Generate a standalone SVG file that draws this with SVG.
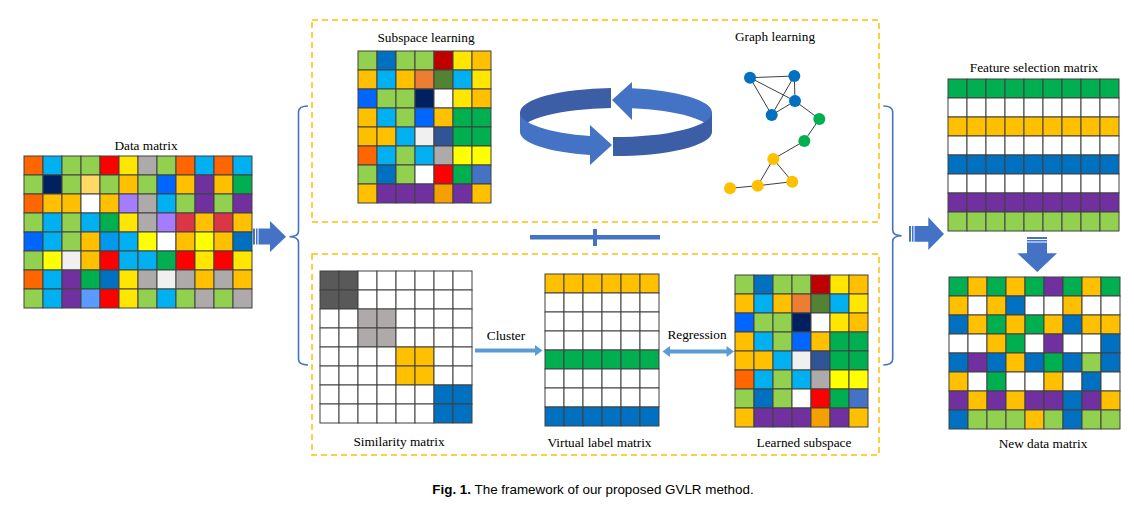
<svg xmlns="http://www.w3.org/2000/svg" xmlns:xlink="http://www.w3.org/1999/xlink" width="1134" height="505" viewBox="0 0 1134 505">
<style>
.mx rect{width:19px;height:19px;stroke:#404040;stroke-width:1}
.o{fill:#FF6600}.b{fill:#00B0F0}.g{fill:#92D050}.r{fill:#FF0000}.y{fill:#FFE600}.yy{fill:#FFFF00}
.a{fill:#AEAAAA}.n{fill:#002060}.l{fill:#FFD966}.m{fill:#FFC000}.bl{fill:#0066FF}.p{fill:#7030A0}
.gr{fill:#00B050}.w{fill:#FFFFFF}.v{fill:#A67CFF}.c{fill:#DC3545}.s{fill:#0099EE}.d{fill:#0070C0}
.e{fill:#F0F0F0}.k{fill:#5B9BFF}.dr{fill:#C00000}.ob{fill:#ED7D31}.ol{fill:#548235}.sb{fill:#2F5597}
.am{fill:#F4A000}.mb{fill:#4472C4}.dk{fill:#595959}
.t{font-family:"Liberation Serif","Times New Roman",serif;font-size:13.3px;fill:#000;text-anchor:middle}
.dash{fill:none;stroke:#FFC000;stroke-width:1.5;stroke-dasharray:6 4}
.brk{fill:none;stroke:#4472C4;stroke-width:1.6}
.blk{fill:#4472C4}
.lb{fill:#5B9BD5}
.edge{stroke:#404040;stroke-width:1}
.nb{fill:#0070C0}.ng{fill:#00B050}.ny{fill:#FFC000}
</style>
<defs>
<g id="subcells" class="mx">
<g><rect class="g" x="0" y="0" width="19" height="19"/><rect class="d" x="19" y="0" width="19" height="19"/><rect class="g" x="38" y="0" width="19" height="19"/><rect class="g" x="57" y="0" width="19" height="19"/><rect class="dr" x="76" y="0" width="19" height="19"/><rect class="y" x="95" y="0" width="19" height="19"/><rect class="m" x="114" y="0" width="19" height="19"/></g>
<g transform="translate(0,19)"><rect class="m" x="0" width="19" height="19"/><rect class="b" x="19" width="19" height="19"/><rect class="m" x="38" width="19" height="19"/><rect class="ob" x="57" width="19" height="19"/><rect class="ol" x="76" width="19" height="19"/><rect class="b" x="95" width="19" height="19"/><rect class="y" x="114" width="19" height="19"/></g>
<g transform="translate(0,38)"><rect class="bl" x="0" width="19" height="19"/><rect class="g" x="19" width="19" height="19"/><rect class="g" x="38" width="19" height="19"/><rect class="n" x="57" width="19" height="19"/><rect class="w" x="76" width="19" height="19"/><rect class="y" x="95" width="19" height="19"/><rect class="m" x="114" width="19" height="19"/></g>
<g transform="translate(0,57)"><rect class="m" x="0" width="19" height="19"/><rect class="b" x="19" width="19" height="19"/><rect class="g" x="38" width="19" height="19"/><rect class="bl" x="57" width="19" height="19"/><rect class="m" x="76" width="19" height="19"/><rect class="gr" x="95" width="19" height="19"/><rect class="gr" x="114" width="19" height="19"/></g>
<g transform="translate(0,76)"><rect class="m" x="0" width="19" height="19"/><rect class="m" x="19" width="19" height="19"/><rect class="b" x="38" width="19" height="19"/><rect class="e" x="57" width="19" height="19"/><rect class="sb" x="76" width="19" height="19"/><rect class="gr" x="95" width="19" height="19"/><rect class="gr" x="114" width="19" height="19"/></g>
<g transform="translate(0,95)"><rect class="o" x="0" width="19" height="19"/><rect class="b" x="19" width="19" height="19"/><rect class="g" x="38" width="19" height="19"/><rect class="b" x="57" width="19" height="19"/><rect class="a" x="76" width="19" height="19"/><rect class="yy" x="95" width="19" height="19"/><rect class="yy" x="114" width="19" height="19"/></g>
<g transform="translate(0,114)"><rect class="g" x="0" width="19" height="19"/><rect class="d" x="19" width="19" height="19"/><rect class="g" x="38" width="19" height="19"/><rect class="w" x="57" width="19" height="19"/><rect class="r" x="76" width="19" height="19"/><rect class="gr" x="95" width="19" height="19"/><rect class="mb" x="114" width="19" height="19"/></g>
<g transform="translate(0,133)"><rect class="m" x="0" width="19" height="19"/><rect class="p" x="19" width="19" height="19"/><rect class="p" x="38" width="19" height="19"/><rect class="p" x="57" width="19" height="19"/><rect class="am" x="76" width="19" height="19"/><rect class="p" x="95" width="19" height="19"/><rect class="m" x="114" width="19" height="19"/></g>
</g>
</defs>
<rect width="1134" height="505" fill="#FFFFFF"/>

<g id="data-matrix">
<text class="t" x="146" y="150">Data matrix</text>
<g class="mx" transform="translate(24,156)">
<g><rect class="o" x="0"/><rect class="b" x="19"/><rect class="g" x="38"/><rect class="g" x="57"/><rect class="r" x="76"/><rect class="y" x="95"/><rect class="a" x="114"/><rect class="g" x="133"/><rect class="o" x="152"/><rect class="b" x="171"/><rect class="o" x="190"/><rect class="b" x="209"/></g>
<g transform="translate(0,19)"><rect class="g" x="0"/><rect class="n" x="19"/><rect class="g" x="38"/><rect class="l" x="57"/><rect class="g" x="76"/><rect class="m" x="95"/><rect class="g" x="114"/><rect class="bl" x="133"/><rect class="m" x="152"/><rect class="p" x="171"/><rect class="m" x="190"/><rect class="gr" x="209"/></g>
<g transform="translate(0,38)"><rect class="o" x="0"/><rect class="m" x="19"/><rect class="m" x="38"/><rect class="w" x="57"/><rect class="m" x="76"/><rect class="v" x="95"/><rect class="a" x="114"/><rect class="b" x="133"/><rect class="g" x="152"/><rect class="p" x="171"/><rect class="g" x="190"/><rect class="p" x="209"/></g>
<g transform="translate(0,57)"><rect class="g" x="0"/><rect class="b" x="19"/><rect class="g" x="38"/><rect class="b" x="57"/><rect class="gr" x="76"/><rect class="y" x="95"/><rect class="a" x="114"/><rect class="v" x="133"/><rect class="c" x="152"/><rect class="m" x="171"/><rect class="c" x="190"/><rect class="m" x="209"/></g>
<g transform="translate(0,76)"><rect class="bl" x="0"/><rect class="b" x="19"/><rect class="g" x="38"/><rect class="m" x="57"/><rect class="s" x="76"/><rect class="b" x="95"/><rect class="yy" x="114"/><rect class="w" x="133"/><rect class="m" x="152"/><rect class="yy" x="171"/><rect class="m" x="190"/><rect class="d" x="209"/></g>
<g transform="translate(0,95)"><rect class="g" x="0"/><rect class="yy" x="19"/><rect class="e" x="38"/><rect class="m" x="57"/><rect class="r" x="76"/><rect class="b" x="95"/><rect class="b" x="114"/><rect class="gr" x="133"/><rect class="r" x="152"/><rect class="y" x="171"/><rect class="r" x="190"/><rect class="y" x="209"/></g>
<g transform="translate(0,114)"><rect class="o" x="0"/><rect class="b" x="19"/><rect class="p" x="38"/><rect class="gr" x="57"/><rect class="d" x="76"/><rect class="y" x="95"/><rect class="a" x="114"/><rect class="e" x="133"/><rect class="a" x="152"/><rect class="m" x="171"/><rect class="a" x="190"/><rect class="m" x="209"/></g>
<g transform="translate(0,133)"><rect class="g" x="0"/><rect class="b" x="19"/><rect class="p" x="38"/><rect class="k" x="57"/><rect class="r" x="76"/><rect class="y" x="95"/><rect class="g" x="114"/><rect class="b" x="133"/><rect class="g" x="152"/><rect class="a" x="171"/><rect class="g" x="190"/><rect class="a" x="209"/></g>
</g>
</g>

<g id="top-box">
<rect class="dash" x="312" y="20" width="567" height="202"/>
</g>
<g id="bottom-box">
<rect class="dash" x="312" y="254" width="567" height="201"/>
</g>

<g id="subspace-learning">
<text class="t" x="426" y="42">Subspace learning</text>
<use href="#subcells" xlink:href="#subcells" x="358" y="51"/>
</g>

<g id="iteration-cycle">
<path fill="#3B5EA6" d="M611,88 A96 24.5 0 0 0 520,112.5 L520,132 A96 24 0 0 1 611,108 Z"/>
<path fill="#4472C4" d="M712,112.5 A96 24.5 0 0 0 632,88.3 L632,82 L612,100 L632,120 L632,108.3 A96 24 0 0 1 712,132 Z"/>
<path fill="#4472C4" d="M520,112.5 A96 24.5 0 0 0 590,136.1 L590,125 L612,145 L590,165 L590,155.1 A96 24 0 0 1 520,132 Z"/>
<path fill="#3B5EA6" d="M613,137 A96 24.5 0 0 0 712,112.5 L712,132 A96 24 0 0 1 613,156 Z"/>
</g>

<g id="graph-learning">
<text class="t" x="775" y="41">Graph learning</text>
<g class="edge">
<line x1="750" y1="77.7" x2="794.3" y2="76"/>
<line x1="750" y1="77.7" x2="795" y2="101"/>
<line x1="750" y1="77.7" x2="771.7" y2="115"/>
<line x1="794.3" y1="76" x2="771.7" y2="115"/>
<line x1="794.3" y1="76" x2="795" y2="101"/>
<line x1="795" y1="101" x2="771.7" y2="115"/>
<line x1="795" y1="101" x2="819.3" y2="119"/>
<line x1="819.3" y1="119" x2="804.3" y2="141"/>
<line x1="804.3" y1="141" x2="773.3" y2="159"/>
<line x1="773.3" y1="159" x2="757.7" y2="185.7"/>
<line x1="773.3" y1="159" x2="792.3" y2="181.7"/>
<line x1="757.7" y1="185.7" x2="792.3" y2="181.7"/>
<line x1="757.7" y1="185.7" x2="730" y2="188.3"/>
</g>
<circle class="nb" cx="750" cy="77.7" r="6"/>
<circle class="nb" cx="794.3" cy="76" r="6"/>
<circle class="nb" cx="795" cy="101" r="6"/>
<circle class="nb" cx="771.7" cy="115" r="6"/>
<circle class="ng" cx="819.3" cy="119" r="6"/>
<circle class="ng" cx="804.3" cy="141" r="6"/>
<circle class="ny" cx="773.3" cy="159" r="6"/>
<circle class="ny" cx="792.3" cy="181.7" r="6"/>
<circle class="ny" cx="757.7" cy="185.7" r="6"/>
<circle class="ny" cx="730" cy="188.3" r="6"/>
</g>

<g id="similarity-matrix">
<g class="mx" transform="translate(320,271)">
<g><rect class="dk" x="0"/><rect class="dk" x="19"/><rect class="w" x="38"/><rect class="w" x="57"/><rect class="w" x="76"/><rect class="w" x="95"/><rect class="w" x="114"/><rect class="w" x="133"/></g>
<g transform="translate(0,19)"><rect class="dk" x="0"/><rect class="dk" x="19"/><rect class="w" x="38"/><rect class="w" x="57"/><rect class="w" x="76"/><rect class="w" x="95"/><rect class="w" x="114"/><rect class="w" x="133"/></g>
<g transform="translate(0,38)"><rect class="w" x="0"/><rect class="w" x="19"/><rect class="a" x="38"/><rect class="a" x="57"/><rect class="w" x="76"/><rect class="w" x="95"/><rect class="w" x="114"/><rect class="w" x="133"/></g>
<g transform="translate(0,57)"><rect class="w" x="0"/><rect class="w" x="19"/><rect class="a" x="38"/><rect class="a" x="57"/><rect class="w" x="76"/><rect class="w" x="95"/><rect class="w" x="114"/><rect class="w" x="133"/></g>
<g transform="translate(0,76)"><rect class="w" x="0"/><rect class="w" x="19"/><rect class="w" x="38"/><rect class="w" x="57"/><rect class="m" x="76"/><rect class="m" x="95"/><rect class="w" x="114"/><rect class="w" x="133"/></g>
<g transform="translate(0,95)"><rect class="w" x="0"/><rect class="w" x="19"/><rect class="w" x="38"/><rect class="w" x="57"/><rect class="m" x="76"/><rect class="m" x="95"/><rect class="w" x="114"/><rect class="w" x="133"/></g>
<g transform="translate(0,114)"><rect class="w" x="0"/><rect class="w" x="19"/><rect class="w" x="38"/><rect class="w" x="57"/><rect class="w" x="76"/><rect class="w" x="95"/><rect class="d" x="114"/><rect class="d" x="133"/></g>
<g transform="translate(0,133)"><rect class="w" x="0"/><rect class="w" x="19"/><rect class="w" x="38"/><rect class="w" x="57"/><rect class="w" x="76"/><rect class="w" x="95"/><rect class="d" x="114"/><rect class="d" x="133"/></g>
</g>
<text class="t" x="399" y="446">Similarity matrix</text>
</g>

<g id="virtual-label-matrix">
<g class="mx" transform="translate(545,274)">
<g><rect class="m" x="0"/><rect class="m" x="19"/><rect class="m" x="38"/><rect class="m" x="57"/><rect class="m" x="76"/><rect class="m" x="95"/></g>
<g transform="translate(0,19)"><rect class="w" x="0"/><rect class="w" x="19"/><rect class="w" x="38"/><rect class="w" x="57"/><rect class="w" x="76"/><rect class="w" x="95"/></g>
<g transform="translate(0,38)"><rect class="w" x="0"/><rect class="w" x="19"/><rect class="w" x="38"/><rect class="w" x="57"/><rect class="w" x="76"/><rect class="w" x="95"/></g>
<g transform="translate(0,57)"><rect class="w" x="0"/><rect class="w" x="19"/><rect class="w" x="38"/><rect class="w" x="57"/><rect class="w" x="76"/><rect class="w" x="95"/></g>
<g transform="translate(0,76)"><rect class="gr" x="0"/><rect class="gr" x="19"/><rect class="gr" x="38"/><rect class="gr" x="57"/><rect class="gr" x="76"/><rect class="gr" x="95"/></g>
<g transform="translate(0,95)"><rect class="w" x="0"/><rect class="w" x="19"/><rect class="w" x="38"/><rect class="w" x="57"/><rect class="w" x="76"/><rect class="w" x="95"/></g>
<g transform="translate(0,114)"><rect class="w" x="0"/><rect class="w" x="19"/><rect class="w" x="38"/><rect class="w" x="57"/><rect class="w" x="76"/><rect class="w" x="95"/></g>
<g transform="translate(0,133)"><rect class="d" x="0"/><rect class="d" x="19"/><rect class="d" x="38"/><rect class="d" x="57"/><rect class="d" x="76"/><rect class="d" x="95"/></g>
</g>
<text class="t" x="599.5" y="446.5">Virtual label matrix</text>
</g>

<g id="learned-subspace">
<use href="#subcells" xlink:href="#subcells" x="735" y="275"/>
<text class="t" x="804" y="447">Learned subspace</text>
</g>

<g id="feature-selection-matrix">
<text class="t" x="1034" y="72">Feature selection matrix</text>
<g class="mx" transform="translate(948,79)">
<g><rect class="gr" x="0"/><rect class="gr" x="19"/><rect class="gr" x="38"/><rect class="gr" x="57"/><rect class="gr" x="76"/><rect class="gr" x="95"/><rect class="gr" x="114"/><rect class="gr" x="133"/><rect class="gr" x="152"/></g>
<g transform="translate(0,19)"><rect class="w" x="0"/><rect class="w" x="19"/><rect class="w" x="38"/><rect class="w" x="57"/><rect class="w" x="76"/><rect class="w" x="95"/><rect class="w" x="114"/><rect class="w" x="133"/><rect class="w" x="152"/></g>
<g transform="translate(0,38)"><rect class="m" x="0"/><rect class="m" x="19"/><rect class="m" x="38"/><rect class="m" x="57"/><rect class="m" x="76"/><rect class="m" x="95"/><rect class="m" x="114"/><rect class="m" x="133"/><rect class="m" x="152"/></g>
<g transform="translate(0,57)"><rect class="w" x="0"/><rect class="w" x="19"/><rect class="w" x="38"/><rect class="w" x="57"/><rect class="w" x="76"/><rect class="w" x="95"/><rect class="w" x="114"/><rect class="w" x="133"/><rect class="w" x="152"/></g>
<g transform="translate(0,76)"><rect class="d" x="0"/><rect class="d" x="19"/><rect class="d" x="38"/><rect class="d" x="57"/><rect class="d" x="76"/><rect class="d" x="95"/><rect class="d" x="114"/><rect class="d" x="133"/><rect class="d" x="152"/></g>
<g transform="translate(0,95)"><rect class="w" x="0"/><rect class="w" x="19"/><rect class="w" x="38"/><rect class="w" x="57"/><rect class="w" x="76"/><rect class="w" x="95"/><rect class="w" x="114"/><rect class="w" x="133"/><rect class="w" x="152"/></g>
<g transform="translate(0,114)"><rect class="p" x="0"/><rect class="p" x="19"/><rect class="p" x="38"/><rect class="p" x="57"/><rect class="p" x="76"/><rect class="p" x="95"/><rect class="p" x="114"/><rect class="p" x="133"/><rect class="p" x="152"/></g>
<g transform="translate(0,133)"><rect class="g" x="0"/><rect class="g" x="19"/><rect class="g" x="38"/><rect class="g" x="57"/><rect class="g" x="76"/><rect class="g" x="95"/><rect class="g" x="114"/><rect class="g" x="133"/><rect class="g" x="152"/></g>
</g>
</g>

<g id="new-data-matrix">
<g class="mx" transform="translate(949,277)">
<g><rect class="gr" x="0"/><rect class="m" x="19"/><rect class="gr" x="38"/><rect class="m" x="57"/><rect class="gr" x="76"/><rect class="p" x="95"/><rect class="gr" x="114"/><rect class="m" x="133"/><rect class="gr" x="152"/></g>
<g transform="translate(0,19)"><rect class="m" x="0"/><rect class="w" x="19"/><rect class="m" x="38"/><rect class="d" x="57"/><rect class="w" x="76"/><rect class="w" x="95"/><rect class="m" x="114"/><rect class="w" x="133"/><rect class="w" x="152"/></g>
<g transform="translate(0,38)"><rect class="d" x="0"/><rect class="m" x="19"/><rect class="gr" x="38"/><rect class="m" x="57"/><rect class="gr" x="76"/><rect class="m" x="95"/><rect class="d" x="114"/><rect class="m" x="133"/><rect class="m" x="152"/></g>
<g transform="translate(0,57)"><rect class="w" x="0"/><rect class="w" x="19"/><rect class="m" x="38"/><rect class="gr" x="57"/><rect class="w" x="76"/><rect class="p" x="95"/><rect class="w" x="114"/><rect class="w" x="133"/><rect class="d" x="152"/></g>
<g transform="translate(0,76)"><rect class="d" x="0"/><rect class="p" x="19"/><rect class="d" x="38"/><rect class="m" x="57"/><rect class="d" x="76"/><rect class="gr" x="95"/><rect class="d" x="114"/><rect class="g" x="133"/><rect class="d" x="152"/></g>
<g transform="translate(0,95)"><rect class="m" x="0"/><rect class="w" x="19"/><rect class="gr" x="38"/><rect class="w" x="57"/><rect class="w" x="76"/><rect class="m" x="95"/><rect class="w" x="114"/><rect class="d" x="133"/><rect class="w" x="152"/></g>
<g transform="translate(0,114)"><rect class="p" x="0"/><rect class="m" x="19"/><rect class="p" x="38"/><rect class="m" x="57"/><rect class="p" x="76"/><rect class="p" x="95"/><rect class="d" x="114"/><rect class="p" x="133"/><rect class="m" x="152"/></g>
<g transform="translate(0,133)"><rect class="d" x="0"/><rect class="g" x="19"/><rect class="g" x="38"/><rect class="g" x="57"/><rect class="m" x="76"/><rect class="g" x="95"/><rect class="d" x="114"/><rect class="g" x="133"/><rect class="g" x="152"/></g>
</g>
<text class="t" x="1043" y="448">New data matrix</text>
</g>

<g id="connectors">
<g id="arrow-data-to-framework">
<rect class="blk" x="253" y="228.5" width="2" height="16"/>
<rect class="blk" x="256" y="228.5" width="1.5" height="16"/>
<polygon class="blk" points="258.5,228.5 270,228.5 270,221 286,236.7 270,252 270,244.5 258.5,244.5"/>
</g>
<path class="brk" d="M308,106 Q298.5,106 298.5,112 L298.5,231 Q298.5,236.7 289.5,236.7 Q298.5,236.7 298.5,242.5 L298.5,359 Q298.5,365 308,365"/>
<g id="box-link">
<rect class="blk" x="530" y="235" width="130" height="4.5"/>
<rect class="blk" x="593" y="229" width="4" height="17"/>
</g>
<g id="cluster-arrow">
<rect class="lb" x="475" y="348.5" width="61" height="4"/>
<polygon class="lb" points="535,345 542.5,350.5 535,356"/>
<text class="t" x="506" y="340">Cluster</text>
</g>
<g id="regression-arrow">
<rect class="lb" x="669" y="349.5" width="58" height="4"/>
<polygon class="lb" points="670,346 662.5,351.5 670,357"/>
<polygon class="lb" points="726.5,346 734,351.5 726.5,357"/>
<text class="t" x="697" y="339">Regression</text>
</g>
<path class="brk" d="M883.3,106 Q892.7,106 892.7,112 L892.7,230 Q892.7,235.7 901.7,235.7 Q892.7,235.7 892.7,241.5 L892.7,359 Q892.7,365 883.3,365"/>
<g id="arrow-framework-to-selection">
<rect class="blk" x="909" y="226" width="2" height="15.7"/>
<rect class="blk" x="912" y="226" width="1.5" height="15.7"/>
<polygon class="blk" points="914.5,226 928.3,226 928.3,217.3 944,234 928.3,250 928.3,241.7 914.5,241.7"/>
</g>
<g id="arrow-selection-to-new">
<rect class="blk" x="1027" y="237" width="20" height="2"/>
<rect class="blk" x="1027" y="240" width="20" height="1.5"/>
<polygon class="blk" points="1027,242.5 1047,242.5 1047,253.3 1057,253.3 1037.3,272 1017.3,253.3 1027,253.3"/>
</g>
</g>

<text x="593" y="493.5" text-anchor="middle" font-family="Liberation Sans, Arial, sans-serif" font-size="13.4" fill="#000"><tspan font-weight="bold">Fig. 1.</tspan> The framework of our proposed GVLR method.</text>
</svg>
